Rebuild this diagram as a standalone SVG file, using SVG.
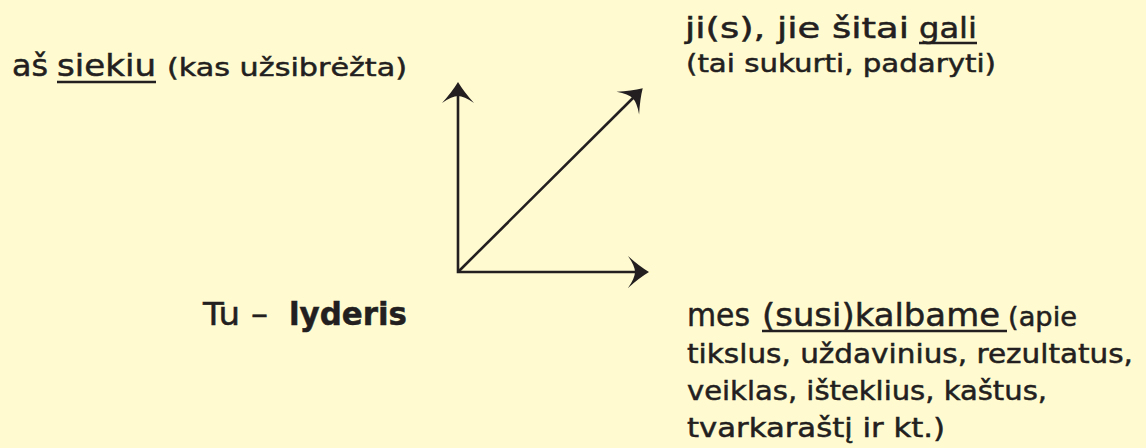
<svg xmlns="http://www.w3.org/2000/svg" width="1146" height="448" viewBox="0 0 1146 448">
<style>
.t{font-family:"DejaVu Sans","Liberation Sans",sans-serif;fill:#231f20;stroke:#231f20;stroke-width:0.5}
.b{font-weight:bold}
.ax{fill:none;stroke:#231f20;stroke-width:2.6}
.ul{stroke:#231f20;stroke-width:2.4}
</style>
<defs>
<marker id="ah" markerUnits="userSpaceOnUse" markerWidth="30" markerHeight="36" refX="8" refY="0" viewBox="-2 -18 26 36" orient="auto-start-reverse" overflow="visible">
<path d="M21,0 Q11,-6 0,-16 Q7,-6 7,0 Q7,6 0,16 Q11,6 21,0 Z" fill="#231f20"/>
</marker>
</defs>
<rect width="1146" height="448" fill="#FFFAD0"/>
<g id="connectors">
<path class="ax" d="M458,95 L458,272 L636,272" marker-start="url(#ah)" marker-end="url(#ah)"/>
<path class="ax" d="M458,272 L633.5,97.5" marker-end="url(#ah)"/>
</g>
<g id="node-siekiu">
<text class="t" x="12" y="76" font-size="30" textLength="36" lengthAdjust="spacingAndGlyphs">aš</text>
<text class="t" x="57" y="76" font-size="30" textLength="99" lengthAdjust="spacingAndGlyphs">siekiu</text>
<line class="ul" x1="57" y1="82" x2="156" y2="82"/>
<text class="t" x="167" y="76" font-size="25" textLength="240" lengthAdjust="spacingAndGlyphs">(kas užsibrėžta)</text>
</g>
<g id="node-gali">
<text class="t" x="685" y="38" font-size="28" textLength="224" lengthAdjust="spacingAndGlyphs">ji(s), jie šitai</text>
<text class="t" x="919" y="38" font-size="28" textLength="58" lengthAdjust="spacingAndGlyphs">gali</text>
<line class="ul" x1="919" y1="43" x2="977" y2="43"/>
<text class="t" x="686" y="72" font-size="25" textLength="310" lengthAdjust="spacingAndGlyphs">(tai sukurti, padaryti)</text>
</g>
<g id="node-lyderis">
<text class="t" x="203" y="325" font-size="32" textLength="65" lengthAdjust="spacingAndGlyphs">Tu –</text>
<text class="t b" x="289" y="325" font-size="32" textLength="118" lengthAdjust="spacingAndGlyphs">lyderis</text>
</g>
<g id="node-kalbame">
<text class="t" x="687" y="326" font-size="32" textLength="63" lengthAdjust="spacingAndGlyphs">mes</text>
<text class="t" x="762" y="326" font-size="32" textLength="238" lengthAdjust="spacingAndGlyphs">(susi)kalbame</text>
<line class="ul" x1="762" y1="331" x2="1007" y2="331"/>
<text class="t" x="1008" y="326" font-size="26" textLength="69" lengthAdjust="spacingAndGlyphs">(apie</text>
<text class="t" x="687" y="363" font-size="26" textLength="446" lengthAdjust="spacingAndGlyphs">tikslus, uždavinius, rezultatus,</text>
<text class="t" x="687" y="400" font-size="26" textLength="360" lengthAdjust="spacingAndGlyphs">veiklas, išteklius, kaštus,</text>
<text class="t" x="687" y="437" font-size="26" textLength="258" lengthAdjust="spacingAndGlyphs">tvarkaraštį ir kt.)</text>
</g>
</svg>
